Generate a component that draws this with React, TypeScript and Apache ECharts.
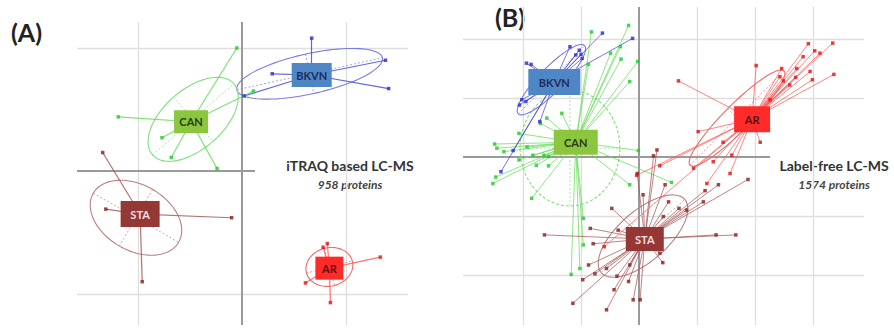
import React, { useEffect, useRef } from "react";
import * as echarts from "echarts";

// ---------- Panel A : iTRAQ based LC-MS (958 proteins) ----------
const A_gridX = [-1, 1];
const A_gridY = [-1, 1];
const A_BKVN_center = [0.67, 0.78];
const A_BKVN_points = [[0.67, 1.08], [1.38, 0.9], [1.41, 0.67], [0.29, 0.79], [0.02, 0.61]];
const A_BKVN_ellipse = [0.65, 0.79, 0.7, 0.13, 0.04, -0.16];
const A_CAN_center = [-0.49, 0.4];
const A_CAN_points = [[-0.05, 1.0], [-1.19, 0.44], [-0.77, 0.27], [-0.68, 0.11], [-0.24, 0.02], [0.11, 0.65]];
const A_CAN_ellipse = [-0.47, 0.42, 0.39, 0.29, 0.19, -0.18];
const A_STA_center = [-0.98, -0.35];
const A_STA_points = [[-1.34, 0.15], [-1.31, -0.31], [-0.1, -0.38], [-0.96, -0.9]];
const A_STA_ellipse = [-1.02, -0.38, 0.41, -0.2, -0.16, -0.23];
const A_AR_center = [0.84, -0.79];
const A_AR_points = [[0.78, -0.62], [0.82, -0.59], [1.33, -0.7], [0.61, -0.91], [0.85, -1.07]];
const A_AR_ellipse = [0.84, -0.78, 0.22, 0.05, 0.05, -0.15];

// ---------- Panel B : Label-free LC-MS (1574 proteins) ----------
const B_gridX = [-2, -1, 1, 2, 3];
const B_gridY = [-2, -1, 1, 2];
const B_BKVN_center = [-1.46, 1.27];
const B_BKVN_points = [
  [-0.63, 2.1], [-0.11, 2.01], [-1.19, 1.87], [-1.09, 1.73], [-1.0, 1.74], [-0.98, 1.67], [-1.03, 1.81],
  [-1.94, 1.59], [-1.86, 1.57], [-2.06, 0.88], [-2.02, 0.97], [-1.95, 0.94], [-1.71, 0.6], [-2.17, 0.11], [-2.38, -0.25],
];
const B_BKVN_ellipse = [-1.51, 1.31, 0.57, 0.58, 0.15, -0.14];
const B_CAN_center = [-1.09, 0.25];
const B_CAN_points = [
  [-0.82, 2.12], [-0.18, 2.23], [-0.32, 1.87], [-0.49, 1.76], [-0.02, 1.62], [-0.31, 1.66], [-0.16, 1.28],
  [-0.87, 1.57], [-1.59, 0.66], [-1.7, 0.57], [-1.33, 0.74], [-2.07, 0.4], [-2.49, 0.22], [-2.45, 0.15],
  [-2.33, 0.09], [-1.93, 0.17], [-1.64, 0.03], [-1.56, 0.01], [-2.52, -0.45], [-2.47, -0.34], [-2.07, -0.05],
  [-1.83, 0.03], [-1.77, -0.14], [-1.56, -0.15], [-1.85, -0.7], [-0.96, -1.04], [-0.96, -1.49], [-1.02, -1.89],
  [-1.17, -1.99], [-0.16, -0.47], [-0.01, 0.11], [0.56, -0.43],
];
const B_CAN_ellipse = [-1.19, 0.15, 0.86, 0, 0, 0.98];
const B_STA_center = [0.1, -1.39];
const B_STA_points = [
  [0.25, 0.02], [0.31, 0.12], [1.88, -0.38], [1.37, -0.47], [1.14, -0.57], [1.11, -0.76], [0.69, -0.87],
  [0.51, -0.76], [0.42, -1.01], [0.07, -0.64], [1.33, -1.32], [1.67, -1.32], [0.41, -1.79], [0.36, -1.63],
  [-0.16, -1.83], [-0.18, -2.11], [-0.1, -2.42], [0.02, -2.42], [-0.47, -0.87], [-0.84, -1.21], [-1.63, -1.32],
  [-0.79, -1.47], [-0.87, -1.83], [-0.76, -1.98], [-0.97, -2.08], [-1.14, -2.48], [-0.56, -2.59], [-0.38, -2.02],
  [-0.43, -2.25], [-0.56, -1.89], [-0.03, -0.28], [0.45, -0.47], [0.82, -0.9], [-0.36, -1.24],
];
const B_STA_ellipse = [0.07, -1.34, 0.72, 0.62, 0.28, -0.32];
const B_AR_center = [1.95, 0.64];
const B_AR_points = [
  [2.92, 1.92], [3.34, 1.93], [3.03, 1.8], [3.12, 1.76], [3.36, 1.4], [2.99, 1.31], [2.95, 1.45], [2.72, 1.5],
  [2.46, 1.5], [2.02, 1.55], [2.43, 1.36], [2.6, 1.22], [2.49, 1.29], [0.68, 1.29], [2.26, 0.97], [2.09, 0.25],
  [1.02, 0.43], [1.45, 0.25], [1.6, 0.03], [1.57, -0.28], [1.17, -0.45], [1.28, -0.08], [0.94, -0.19],
  [0.36, -0.15], [-0.04, -0.31], [-0.6, -1.52], [2.83, 1.7], [2.7, 1.35],
];
const B_AR_ellipse = [1.69, 0.66, 0.81, 0.8, 0.16, -0.16];

// ---------- styles ----------
const STYLE: Record<string, any> = {
  BKVN: { box: "#4f86c6", text: "#1f2d5a", line: "#4b4bd6", point: "#2a2ad0", ell: "#7a7ae6" },
  CAN: { box: "#8cc63e", text: "#2b3a12", line: "#66dd5a", point: "#1fcc2a", ell: "#7ee07a" },
  STA: { box: "#953735", text: "#f6e0e0", line: "#a85a5a", point: "#8a1c1c", ell: "#b98080" },
  AR: { box: "#ff2b2b", text: "#5a0c0c", line: "#ff5a5a", point: "#e01010", ell: "#ef6a6a" },
};
const BOX_A: Record<string, number[]> = { BKVN: [40, 24], CAN: [34, 23], STA: [39, 26], AR: [28, 23] };
const BOX_B: Record<string, number[]> = { BKVN: [52, 26], CAN: [44, 25], STA: [38, 24], AR: [36, 26] };

const AX_A = { xmin: -1.587, xmax: 1.596, ymin: -1.252, ymax: 1.211, darkHEnd: 0.125 };
const AX_B = { xmin: -3.034, xmax: 3.879, ymin: -2.847, ymax: 2.542, darkHEnd: 2.26 };

const FONT = "Lato, 'Open Sans', sans-serif";

function panelSeries(idx: number, ax: any, gx: number[], gy: number[], groups: any[], boxSizes: any, lineW: number, lineOp: number, ellDashed: Record<string, boolean>) {
  const s: any[] = [];
  // light grid lines
  const light = [
    ...gx.map((x) => ({ coords: [[x, ax.ymin], [x, ax.ymax]] })),
    ...gy.map((y) => ({ coords: [[ax.xmin, y], [ax.xmax, y]] })),
  ];
  s.push({
    type: "lines", coordinateSystem: "cartesian2d", xAxisIndex: idx, yAxisIndex: idx, silent: true, z: 1,
    data: light, symbol: ["none", "none"], lineStyle: { color: "#dedede", width: 1.3, opacity: 1 },
  });
  s.push({
    type: "lines", coordinateSystem: "cartesian2d", xAxisIndex: idx, yAxisIndex: idx, silent: true, z: 1,
    data: [
      { coords: [[0, ax.ymin], [0, ax.ymax]] },
      { coords: [[ax.xmin, 0], [ax.darkHEnd, 0]] },
    ],
    symbol: ["none", "none"], lineStyle: { color: "#9a9a9a", width: 2, opacity: 1 },
  });
  groups.forEach((g) => {
    const st = STYLE[g.name];
    s.push({
      type: "custom", coordinateSystem: "cartesian2d", xAxisIndex: idx, yAxisIndex: idx, silent: true, z: 2,
      data: [g.ellipse],
      renderItem: (_p: any, api: any) => {
        const cx = api.value(0), cy = api.value(1), a0 = api.value(2), a1 = api.value(3), b0 = api.value(4), b1 = api.value(5);
        const pts: number[][] = [];
        for (let i = 0; i <= 90; i++) {
          const t = (i / 90) * Math.PI * 2;
          pts.push(api.coord([cx + a0 * Math.cos(t) + b0 * Math.sin(t), cy + a1 * Math.cos(t) + b1 * Math.sin(t)]));
        }
        const pa = api.coord([cx - a0, cy - a1]), pb = api.coord([cx + a0, cy + a1]);
        const pc = api.coord([cx - b0, cy - b1]), pd = api.coord([cx + b0, cy + b1]);
        const dashed = ellDashed[g.name];
        return {
          type: "group",
          children: [
            { type: "polyline", shape: { points: pts }, style: { fill: "none", stroke: st.ell, lineWidth: 1.1, lineDash: dashed ? [3, 2] : null } },
            { type: "line", shape: { x1: pa[0], y1: pa[1], x2: pb[0], y2: pb[1] }, style: { stroke: st.ell, lineWidth: 1, lineDash: [2, 2], opacity: 0.7 } },
            { type: "line", shape: { x1: pc[0], y1: pc[1], x2: pd[0], y2: pd[1] }, style: { stroke: st.ell, lineWidth: 1, lineDash: [2, 2], opacity: 0.7 } },
          ],
        };
      },
    });
  });
  groups.forEach((g) => {
    const st = STYLE[g.name];
    s.push({
      type: "lines", coordinateSystem: "cartesian2d", xAxisIndex: idx, yAxisIndex: idx, silent: true, z: 3,
      data: g.points.map((p: number[]) => ({ coords: [g.center, p] })),
      symbol: ["none", "none"], lineStyle: { color: st.line, width: lineW, opacity: lineOp },
    });
    s.push({
      type: "scatter", xAxisIndex: idx, yAxisIndex: idx, silent: true, z: 4,
      data: g.points, symbol: "rect", symbolSize: 3.5, itemStyle: { color: st.point },
    });
  });
  groups.forEach((g) => {
    const st = STYLE[g.name];
    s.push({
      type: "scatter", xAxisIndex: idx, yAxisIndex: idx, silent: true, z: 6,
      data: [{ value: g.center, name: g.name }],
      symbol: "rect", symbolSize: boxSizes[g.name],
      itemStyle: { color: st.box, opacity: 1 },
      label: {
        show: true, position: "inside", formatter: g.name, color: st.text,
        fontSize: 11, fontWeight: "bold", fontFamily: FONT,
      },
    });
  });
  return s;
}

export default function App() {
  const ref = useRef<HTMLDivElement>(null);
  useEffect(() => {
    if (!ref.current) return;
    const chart = echarts.init(ref.current, null, { renderer: "svg" });
    const groupsA = [
      { name: "BKVN", center: A_BKVN_center, points: A_BKVN_points, ellipse: A_BKVN_ellipse },
      { name: "CAN", center: A_CAN_center, points: A_CAN_points, ellipse: A_CAN_ellipse },
      { name: "STA", center: A_STA_center, points: A_STA_points, ellipse: A_STA_ellipse },
      { name: "AR", center: A_AR_center, points: A_AR_points, ellipse: A_AR_ellipse },
    ];
    const groupsB = [
      { name: "CAN", center: B_CAN_center, points: B_CAN_points, ellipse: B_CAN_ellipse },
      { name: "BKVN", center: B_BKVN_center, points: B_BKVN_points, ellipse: B_BKVN_ellipse },
      { name: "STA", center: B_STA_center, points: B_STA_points, ellipse: B_STA_ellipse },
      { name: "AR", center: B_AR_center, points: B_AR_points, ellipse: B_AR_ellipse },
    ];
    const axis = (ax: any, idx: number, dir: "x" | "y") => ({
      type: "value", gridIndex: idx, show: false,
      min: dir === "x" ? ax.xmin : ax.ymin, max: dir === "x" ? ax.xmax : ax.ymax,
      splitLine: { show: false },
    });
    chart.setOption({
      animation: false,
      backgroundColor: "#ffffff",
      grid: [
        { left: 77, top: 22, width: 331, height: 303 },
        { left: 463, top: 7, width: 401, height: 318 },
      ],
      xAxis: [axis(AX_A, 0, "x"), axis(AX_B, 1, "x")],
      yAxis: [axis(AX_A, 0, "y"), axis(AX_B, 1, "y")],
      series: [
        ...panelSeries(0, AX_A, A_gridX, A_gridY, groupsA, BOX_A, 1.2, 0.85, { BKVN: false, CAN: false, STA: false, AR: false }),
        ...panelSeries(1, AX_B, B_gridX, B_gridY, groupsB, BOX_B, 1, 0.75, { BKVN: false, CAN: true, STA: false, AR: false }),
      ],
      graphic: [
        { type: "text", left: 11, top: 19, style: { text: "(A)", font: `bold 25px ${FONT}`, fill: "#222" } },
        { type: "text", left: 495, top: 4, style: { text: "(B)", font: `bold 25px ${FONT}`, fill: "#222" } },
        { type: "text", x: 350, y: 165, style: { text: "iTRAQ based LC-MS", font: `bold 14px ${FONT}`, fill: "#333", align: "center", verticalAlign: "middle" } },
        { type: "text", x: 350, y: 184, style: { text: "958 proteins", font: `italic bold 12px ${FONT}`, fill: "#444", align: "center", verticalAlign: "middle" } },
        { type: "text", x: 834, y: 165, style: { text: "Label-free LC-MS", font: `bold 14px ${FONT}`, fill: "#333", align: "center", verticalAlign: "middle" } },
        { type: "text", x: 834, y: 184, style: { text: "1574 proteins", font: `italic bold 12px ${FONT}`, fill: "#444", align: "center", verticalAlign: "middle" } },
      ],
    });
    return () => chart.dispose();
  }, []);
  return (
    <div style={{ position: "fixed", left: 0, top: 0, width: 894, height: 330, background: "#fff" }}>
      <div ref={ref} style={{ width: 894, height: 330 }} />
    </div>
  );
}
